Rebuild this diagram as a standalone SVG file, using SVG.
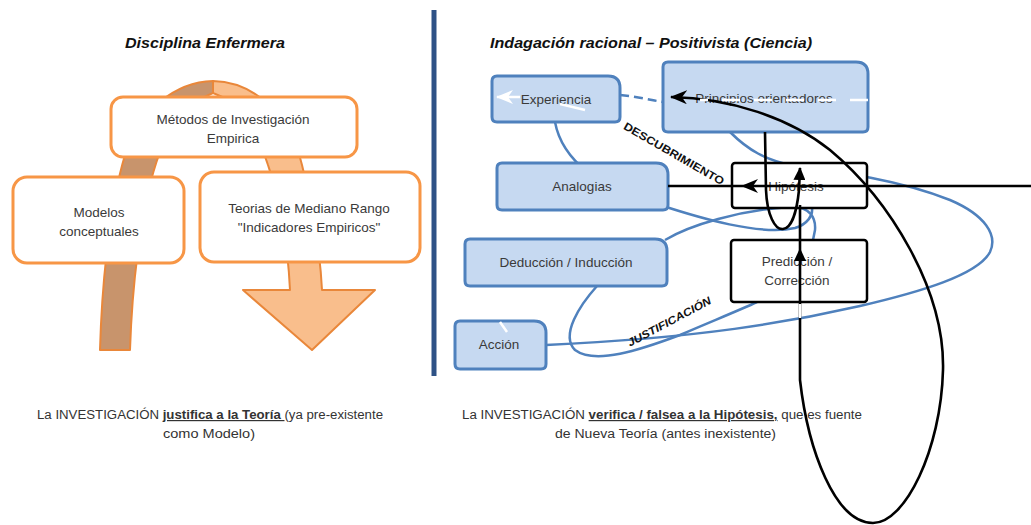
<svg xmlns="http://www.w3.org/2000/svg" width="1031" height="525" viewBox="0 0 1031 525">
<defs>
<style>
.t{font-family:"Liberation Sans",Arial,sans-serif;fill:#3a3a3a;font-size:13.5px;text-anchor:middle}
.ttl{font-family:"Liberation Sans",Arial,sans-serif;font-weight:bold;font-style:italic;font-size:15px;fill:#111}
.ob{fill:#fff;stroke:#F79646;stroke-width:3}
.bb{fill:#C6D9F1;stroke:#4F81BD;stroke-width:3}
.kb{fill:#fff;stroke:#000;stroke-width:2.5}
.bl{fill:none;stroke:#4F81BD;stroke-width:2.5}
.k{fill:none;stroke:#000;stroke-width:2.6}
.w{fill:none;stroke:#fff;stroke-width:2.5}
.lbl{font-family:"Liberation Sans",Arial,sans-serif;font-weight:bold;font-size:11px;fill:#111;text-anchor:middle}
.cap{font-family:"Liberation Sans",Arial,sans-serif;font-size:12px;fill:#333}
</style>
<marker id="ah" viewBox="0 0 17 14" refX="16" refY="7" markerWidth="17" markerHeight="14" markerUnits="userSpaceOnUse" orient="auto-start-reverse"><path d="M0,0 L17,7 L0,14 L5,7 Z" fill="#000"/></marker>
<marker id="tri" viewBox="0 0 13 12" refX="12" refY="6" markerWidth="13" markerHeight="12" markerUnits="userSpaceOnUse" orient="auto"><path d="M0,0 L13,6 L0,12 Z" fill="#000"/></marker>
<marker id="wah" viewBox="0 0 17 14" refX="16" refY="7" markerWidth="17" markerHeight="14" markerUnits="userSpaceOnUse" orient="auto"><path d="M0,0 L17,7 L0,14 L5,7 Z" fill="#fff"/></marker>
</defs>
<rect width="1031" height="525" fill="#fff"/>

<g id="ribbon" stroke="#E9873A" stroke-width="2" stroke-linejoin="round">
<path d="M100,350 L130,350 C132,290 140,205 160,152 C175,118 195,100 213,93 L213,81 C175,82 140,110 125,155 C110,205 102,280 100,350 Z" fill="#C8946C"/>
<path d="M213,81 C255,82 290,115 302,165 C312,205 320,250 322,290 L375,290 L312,350 L243,290 L290,290 C288,250 282,205 268,165 C255,125 235,100 213,93 Z" fill="#F9BE8C"/>
</g>

<g id="metodos"><rect class="ob" x="111" y="97" width="246" height="60" rx="12"/><text class="t" x="233" y="124">Métodos de Investigación</text><text class="t" x="233" y="143">Empirica</text></g>
<g id="modelos"><rect class="ob" x="13" y="177" width="171" height="86" rx="14"/><text class="t" x="99" y="217">Modelos</text><text class="t" x="99" y="236">conceptuales</text></g>
<g id="teorias"><rect class="ob" x="200" y="172" width="220" height="90" rx="14"/><text class="t" x="309" y="213">Teorias de Mediano Rango</text><text class="t" x="309" y="232">"Indicadores Empiricos"</text></g>

<line id="divider" x1="434" y1="10" x2="434" y2="376" stroke="#2E5286" stroke-width="5"/>

<text class="ttl" x="125" y="48" textLength="160" lengthAdjust="spacingAndGlyphs">Disciplina Enfermera</text>
<text class="ttl" x="490" y="48" textLength="322" lengthAdjust="spacingAndGlyphs">Indagación racional – Positivista (Ciencia)</text>

<g id="blue-connectors">
<path class="bl" d="M620,95 C640,97 650,100 663,102" stroke-dasharray="9 5"/>
<path class="bl" d="M555,122 C562,160 600,190 660,205 C700,218 760,236 795,228 C808,224 813,215 812,208"/>
<path class="bl" d="M665,240 C690,225 740,210 790,207 C810,206 816,218 815,230 L813,240"/>
<path class="bl" d="M730,132 C748,150 765,160 795,166 C840,172 900,180 950,200 C985,215 998,235 990,252 C978,275 920,292 860,306 C790,322 700,338 546,345"/>
<path class="bl" d="M597,286 C580,305 560,335 575,350 C595,365 640,350 680,335 C710,322 740,310 757,302"/>
</g>

<g id="experiencia"><path class="bb" d="M497,76 H608 Q620,76 620,88 V117 Q620,122 615,122 H497 Q492,122 492,117 V81 Q492,76 497,76 Z"/><text class="t" x="556" y="104">Experiencia</text></g>
<g id="principios"><path class="bb" d="M668,62 H856 Q868,62 868,74 V127 Q868,132 863,132 H668 Q663,132 663,127 V67 Q663,62 668,62 Z"/><text class="t" x="764" y="103">Principios orientadores</text></g>
<g id="analogias"><path class="bb" d="M502,163 H656 Q668,163 668,175 V205 Q668,210 663,210 H502 Q497,210 497,205 V168 Q497,163 502,163 Z"/><text class="t" x="582" y="191">Analogias</text></g>
<g id="deduccion"><path class="bb" d="M470,239 H655 Q667,239 667,251 V281 Q667,286 662,286 H470 Q465,286 465,281 V244 Q465,239 470,239 Z"/><text class="t" x="566" y="267">Deducción / Inducción</text></g>
<g id="accion"><path class="bb" d="M460,321 H534 Q546,321 546,333 V364 Q546,369 541,369 H460 Q455,369 455,364 V326 Q455,321 460,321 Z"/><text class="t" x="499" y="349">Acción</text></g>
<g id="hipotesis"><rect class="kb" x="732" y="163" width="135" height="45" rx="3"/><text class="t" x="796" y="191">Hipótesis</text></g>
<g id="prediccion"><rect class="kb" x="731" y="240" width="136" height="62" rx="3"/><text class="t" x="797" y="266">Predicción /</text><text class="t" x="797" y="285">Corrección</text></g>

<g id="black-connectors">
<path class="k" stroke-width="3" d="M1031,186 L742,186 L668,186" marker-mid="url(#ah)"/>
<path class="k" d="M671,97 C730,98 790,118 830,150 C890,200 945,290 943,370 C941,450 905,523 873,523 C835,523 808,450 800,380 L800,249" marker-start="url(#ah)" marker-end="url(#tri)"/>
<path class="k" d="M800,249 L800,205"/>
<path class="k" d="M765,132 L766,190 C767,215 775,230 783,229 C792,228 797,210 799,190 L800,168" marker-end="url(#tri)"/>
</g>

<g id="white-marks">
<path class="w" d="M868,100 L700,100" stroke-dasharray="18 14"/>
<path class="w" d="M585,110 L560,104" />
<path class="w" d="M520,97 L497,97" marker-end="url(#wah)"/>
<path class="w" stroke-width="1.5" d="M800,304 L800,318"/>
<path class="w" d="M500,322 L507,332"/>
</g>

<text class="lbl" transform="translate(672,157) rotate(30)" textLength="114" lengthAdjust="spacingAndGlyphs">DESCUBRIMIENTO</text>
<text class="lbl" font-style="italic" transform="translate(671,325) rotate(-28)" textLength="93" lengthAdjust="spacingAndGlyphs">JUSTIFICACIÓN</text>

<text class="cap" x="37" y="419" textLength="346" lengthAdjust="spacingAndGlyphs">La INVESTIGACIÓN <tspan font-weight="bold" text-decoration="underline">justifica a la Teoría </tspan>(ya pre-existente</text>
<text class="cap" x="163" y="438" textLength="92" lengthAdjust="spacingAndGlyphs">como Modelo)</text>
<text class="cap" x="462" y="419" textLength="400" lengthAdjust="spacingAndGlyphs">La INVESTIGACIÓN <tspan font-weight="bold" text-decoration="underline">verifica / falsea a la Hipótesis,</tspan> que es fuente</text>
<text class="cap" x="555" y="438" textLength="221" lengthAdjust="spacingAndGlyphs">de Nueva Teoría (antes inexistente)</text>
</svg>
